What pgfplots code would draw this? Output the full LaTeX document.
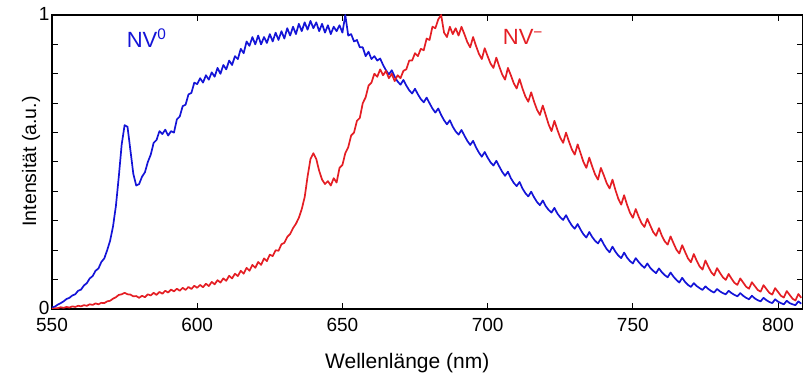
\documentclass[border=0pt]{standalone}
\usepackage{fontspec}
\setmainfont{Liberation Sans}
\usepackage{pgfplots}
\usepackage{pgfplotstable}
\pgfplotsset{compat=1.18}
\definecolor{nvblue}{RGB}{20,20,215}
\definecolor{nvred}{RGB}{228,30,36}

\pgfplotstableread{
x y
550 0.005
551 0.008
552 0.015
553 0.02
554 0.026
555 0.034
556 0.038
557 0.046
558 0.05
559 0.062
560 0.066
561 0.08
562 0.088
563 0.104
564 0.112
565 0.13
566 0.138
567 0.16
568 0.172
569 0.2
570 0.232
571 0.28
572 0.35
573 0.45
574 0.56
575 0.625
576 0.62
577 0.54
578 0.46
579 0.42
580 0.425
581 0.45
582 0.465
583 0.5
584 0.525
585 0.565
586 0.575
587 0.605
588 0.595
589 0.61
590 0.59
591 0.605
592 0.6
593 0.645
594 0.655
595 0.69
596 0.695
597 0.73
598 0.735
599 0.77
600 0.765
601 0.785
602 0.77
603 0.795
604 0.78
605 0.805
606 0.79
607 0.82
608 0.8
609 0.83
610 0.815
611 0.845
612 0.83
613 0.86
614 0.85
615 0.885
616 0.87
617 0.91
618 0.895
619 0.925
620 0.9
621 0.93
622 0.9
623 0.925
624 0.905
625 0.935
626 0.91
627 0.94
628 0.915
629 0.945
630 0.92
631 0.955
632 0.93
633 0.96
634 0.935
635 0.97
636 0.945
637 0.975
638 0.95
639 0.98
640 0.955
641 0.975
642 0.945
643 0.97
644 0.94
645 0.965
646 0.935
647 0.96
648 0.945
649 0.965
650 0.94
651 1.0
652 0.93
653 0.935
654 0.91
655 0.915
656 0.89
657 0.89
658 0.86
659 0.875
660 0.85
661 0.86
662 0.845
663 0.852
664 0.83
665 0.812
666 0.798
667 0.812
668 0.79
669 0.774
670 0.763
671 0.779
672 0.76
673 0.744
674 0.733
675 0.749
676 0.73
677 0.714
678 0.703
679 0.719
680 0.70
681 0.682
682 0.668
683 0.682
684 0.66
685 0.642
686 0.628
687 0.642
688 0.62
689 0.604
690 0.593
691 0.609
692 0.59
693 0.572
694 0.558
695 0.572
696 0.55
697 0.532
698 0.518
699 0.534
700 0.515
701 0.499
702 0.488
703 0.504
704 0.485
705 0.467
706 0.453
707 0.467
708 0.445
709 0.429
710 0.418
711 0.432
712 0.41
713 0.394
714 0.383
715 0.399
716 0.38
717 0.364
718 0.353
719 0.369
720 0.35
721 0.337
722 0.328
723 0.344
724 0.325
725 0.312
726 0.303
727 0.319
728 0.30
729 0.284
730 0.273
731 0.289
732 0.27
733 0.254
734 0.243
735 0.262
736 0.245
737 0.232
738 0.223
739 0.239
740 0.22
741 0.204
742 0.193
743 0.212
744 0.195
745 0.182
746 0.173
747 0.192
748 0.175
749 0.163
750 0.155
751 0.173
752 0.16
753 0.149
754 0.14
755 0.155
756 0.14
757 0.13
758 0.122
759 0.138
760 0.125
761 0.115
762 0.108
763 0.124
764 0.11
765 0.099
766 0.09
767 0.106
768 0.092
769 0.082
770 0.075
771 0.088
772 0.078
773 0.071
774 0.065
775 0.077
776 0.068
777 0.061
778 0.056
779 0.068
780 0.06
781 0.054
782 0.05
783 0.062
784 0.054
785 0.048
786 0.043
787 0.054
788 0.045
789 0.038
790 0.033
791 0.045
792 0.036
793 0.03
794 0.026
795 0.038
796 0.03
797 0.024
798 0.02
799 0.033
800 0.025
801 0.02
802 0.016
803 0.028
804 0.02
805 0.016
806 0.013
807 0.026
808 0.018
}\bluedata

\pgfplotstableread{
x y
550 0.0
551 0.002
552 0.003
553 0.006
554 0.004
555 0.007
556 0.005
557 0.009
558 0.007
559 0.011
560 0.009
561 0.013
562 0.011
563 0.016
564 0.014
565 0.019
566 0.016
567 0.021
568 0.02
569 0.026
570 0.028
571 0.035
572 0.04
573 0.048
574 0.05
575 0.055
576 0.05
577 0.049
578 0.043
579 0.044
580 0.038
581 0.045
582 0.04
583 0.05
584 0.046
585 0.055
586 0.048
587 0.058
588 0.052
589 0.062
590 0.056
591 0.066
592 0.06
593 0.069
594 0.062
595 0.072
596 0.065
597 0.075
598 0.068
599 0.079
600 0.072
601 0.082
602 0.074
603 0.086
604 0.078
605 0.092
606 0.084
607 0.098
608 0.09
609 0.104
610 0.096
611 0.113
612 0.104
613 0.12
614 0.112
615 0.13
616 0.12
617 0.14
618 0.13
619 0.15
620 0.14
621 0.16
622 0.15
623 0.172
624 0.163
625 0.185
626 0.18
627 0.2
628 0.198
629 0.22
630 0.225
631 0.245
632 0.255
633 0.275
634 0.29
635 0.31
636 0.34
637 0.38
638 0.45
639 0.51
640 0.53
641 0.51
642 0.47
643 0.44
644 0.425
645 0.435
646 0.42
647 0.445
648 0.43
649 0.48
650 0.49
651 0.53
652 0.55
653 0.59
654 0.6
655 0.64
656 0.65
657 0.7
658 0.72
659 0.76
660 0.77
661 0.8
662 0.79
663 0.815
664 0.795
665 0.81
666 0.785
667 0.8
668 0.775
669 0.795
670 0.785
671 0.81
672 0.815
673 0.845
674 0.845
675 0.87
676 0.86
677 0.885
678 0.88
679 0.92
680 0.915
681 0.96
682 0.955
683 0.985
684 1.0
685 0.94
686 0.925
687 0.96
688 0.935
689 0.955
690 0.93
691 0.96
692 0.935
693 0.908
694 0.89
695 0.925
696 0.895
697 0.868
698 0.85
699 0.887
700 0.86
701 0.835
702 0.82
703 0.855
704 0.825
705 0.798
706 0.78
707 0.82
708 0.795
709 0.768
710 0.75
711 0.782
712 0.75
713 0.723
714 0.705
715 0.737
716 0.705
717 0.678
718 0.66
719 0.692
720 0.66
721 0.628
722 0.605
723 0.64
724 0.61
725 0.583
726 0.565
727 0.6
728 0.57
729 0.543
730 0.525
731 0.56
732 0.53
733 0.5
734 0.48
735 0.515
736 0.485
737 0.458
738 0.44
739 0.48
740 0.455
741 0.428
742 0.41
743 0.44
744 0.405
745 0.375
746 0.355
747 0.387
748 0.355
749 0.328
750 0.31
751 0.34
752 0.314
753 0.292
754 0.279
755 0.307
756 0.284
757 0.262
758 0.249
759 0.275
760 0.249
761 0.23
762 0.219
763 0.247
764 0.224
765 0.202
766 0.189
767 0.217
768 0.194
769 0.172
770 0.159
771 0.187
772 0.164
773 0.145
774 0.134
775 0.165
776 0.144
777 0.125
778 0.114
779 0.139
780 0.123
781 0.108
782 0.099
783 0.119
784 0.103
785 0.089
786 0.082
787 0.104
788 0.09
789 0.076
790 0.069
791 0.091
792 0.078
793 0.065
794 0.059
795 0.081
796 0.068
797 0.055
798 0.049
799 0.071
800 0.058
801 0.045
802 0.039
803 0.061
804 0.048
805 0.035
806 0.029
807 0.051
808 0.038
}\reddata

\begin{document}
\begin{tikzpicture}
\path[use as bounding box] (-52pt,-65pt) rectangle (751pt,309pt);
\begin{axis}[
  at={(0,0)}, anchor=south west,
  width=751pt, height=294pt, scale only axis,
  xmin=550, xmax=808.6, ymin=0, ymax=1,
  xtick={550,600,650,700,750,800},
  ytick={0,0.1,0.2,0.3,0.4,0.5,0.6,0.7,0.8,0.9,1},
  yticklabels={0,,,,,,,,,,1},
  tick align=inside,
  major tick length=6pt,
  tick style={black, line width=1pt},
  axis line style={black, line width=1.3pt},
  /pgf/number format/assume math mode=true,
  tick label style={font=\fontsize{19}{19}\selectfont},
  xticklabel style={inner ysep=0.5pt, yshift=-9pt},
  yticklabel style={inner ysep=0.5pt, xshift=1pt, yshift=1pt},
  xlabel={Wellenlänge (nm)},
  xlabel style={font=\fontsize{21}{21}\selectfont, at={(axis description cs:0.473,0)}, anchor=base, yshift=-60pt},
  ylabel={Intensität (a.u.)},
  ylabel style={font=\fontsize{19.5}{19.5}\selectfont, at={(axis description cs:-0.0213,0.502)}, anchor=base},
  clip=true,
]
\addplot[nvblue, line width=1.7pt, line join=round] table[x=x,y=y] {\bluedata};
\addplot[nvred, line width=1.7pt, line join=round] table[x=x,y=y] {\reddata};
\node[anchor=base west, inner sep=0pt, text=nvblue, font=\fontsize{22}{22}\selectfont] at (axis cs:575.7,0.891) {NV\textsuperscript{0}};
\node[anchor=base west, inner sep=0pt, text=nvred, font=\fontsize{22}{22}\selectfont] at (axis cs:705.2,0.898) {NV\textsuperscript{−}};
\end{axis}
\end{tikzpicture}
\end{document}
